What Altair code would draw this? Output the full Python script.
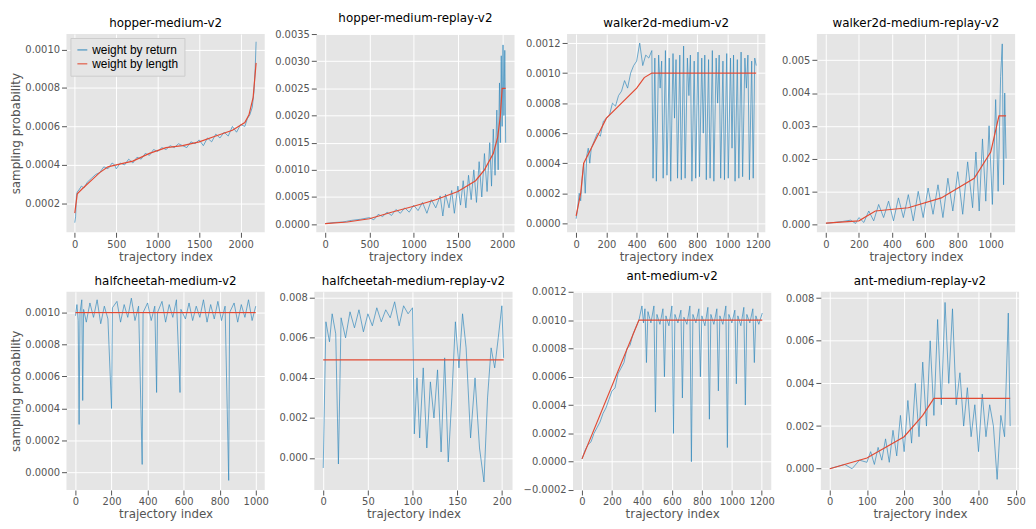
import altair as alt
import pandas as pd

BLUE = "#348ABD"
RED = "#E24A33"
SERIES = ["weight by return", "weight by length"]

# ---- hopper-medium-v2
hm_ret = [(0,0.00010),(10,0.00013),(20,0.00024),(30,0.00026),(50,0.00027),(80,0.00029),(110,0.00028),
          (150,0.00031),(200,0.00033),(250,0.00035),(300,0.00036),(350,0.00039),(400,0.00038),(450,0.00041),
          (480,0.00040),(500,0.00038),(550,0.00041),(600,0.00040),(650,0.00043),(700,0.00041),(750,0.00044),
          (800,0.00043),(850,0.00046),(900,0.00045),(950,0.00048),(1000,0.00047),(1050,0.00049),(1100,0.00048),
          (1150,0.00050),(1200,0.00049),(1250,0.00051),(1300,0.00050),(1350,0.00049),(1400,0.00052),(1450,0.00051),
          (1500,0.00053),(1550,0.00050),(1600,0.00054),(1650,0.00052),(1700,0.00056),(1750,0.00054),(1800,0.00057),
          (1850,0.00055),(1900,0.00060),(1950,0.00057),(2000,0.00061),(2050,0.00060),(2080,0.00064),(2110,0.00066),
          (2140,0.00070),(2160,0.00078),(2175,0.00090),(2186,0.00104)]
hm_len = [(0,0.00015),(30,0.00025),(100,0.00028),(200,0.00032),(300,0.00036),(400,0.00039),(500,0.00040),
          (700,0.00042),(900,0.00046),(1100,0.00049),(1300,0.00050),(1500,0.00052),(1700,0.00055),(1900,0.00058),
          (2050,0.00062),(2100,0.00066),(2150,0.00075),(2186,0.00093)]

# ---- hopper-medium-replay-v2
hmr_ret = [(0,0.00001),(100,0.00003),(200,0.00004),(300,0.00007),(400,0.00009),(500,0.00012),(550,0.00008),
           (600,0.00018),(650,0.00014),(700,0.00022),(750,0.00016),(800,0.00027),(850,0.00020),(900,0.00030),
           (950,0.00022),(1000,0.00035),(1050,0.00025),(1100,0.00040),(1150,0.00020),(1200,0.00045),(1250,0.00030),
           (1300,0.00052),(1330,0.00015),(1360,0.00055),(1400,0.00030),(1430,0.00062),(1460,0.00020),(1500,0.00070),
           (1530,0.00035),(1560,0.00080),(1590,0.00030),(1620,0.00090),(1650,0.00045),(1680,0.00100),(1710,0.00040),
           (1740,0.00115),(1770,0.00050),(1800,0.00130),(1830,0.00060),(1860,0.00150),(1880,0.00070),(1900,0.00175),
           (1920,0.00090),(1940,0.00210),(1955,0.00100),(1970,0.00260),(1980,0.00150),(1990,0.00310),(2000,0.00180),
           (2010,0.00330),(2020,0.00200),(2030,0.00320),(2040,0.00150)]
hmr_len = [(0,0.00001),(250,0.00004),(500,0.00010),(750,0.00022),(1000,0.00033),(1250,0.00045),(1500,0.00060),
           (1700,0.00080),(1800,0.00100),(1900,0.00130),(1950,0.00160),(1980,0.00200),(2000,0.00250),(2040,0.00250)]

# ---- walker2d-medium-v2
wm_ret = [(0,0.00003),(10,0.0001),(20,0.0002),(30,0.00015),(40,0.0003),(50,0.0004),(60,0.0002),(70,0.00045),
          (80,0.0005),(90,0.0004),(100,0.0005),(120,0.00055),(140,0.0006),(160,0.00058),(180,0.00068),(200,0.0007),
          (220,0.00072),(240,0.0008),(260,0.00078),(280,0.00085),(300,0.00088),(320,0.00095),(340,0.0009),
          (360,0.0010),(380,0.00105),(400,0.00108),(420,0.0012),(440,0.00105),(460,0.00112),(480,0.0011),
          (500,0.00115),(508,0.0003),(520,0.0011),(530,0.00028),(545,0.00112),(555,0.0009),(565,0.00108),
          (575,0.0003),(590,0.00115),(600,0.00032),(615,0.0011),(625,0.00028),(640,0.00113),(650,0.0007),
          (660,0.00109),(670,0.0003),(685,0.00112),(695,0.00029),(710,0.00118),(720,0.0003),(735,0.0011),
          (745,0.00085),(755,0.00112),(765,0.00028),(780,0.00108),(790,0.0003),(805,0.00114),(815,0.00031),
          (830,0.0011),(840,0.0006),(850,0.00112),(860,0.00029),(875,0.00109),(885,0.0003),(900,0.00115),
          (910,0.00028),(925,0.0011),(935,0.0008),(945,0.00112),(955,0.0003),(970,0.00108),(980,0.00029),
          (995,0.00113),(1005,0.0003),(1020,0.0011),(1030,0.0005),(1040,0.00112),(1050,0.00028),(1065,0.00109),
          (1075,0.0003),(1090,0.00114),(1100,0.00031),(1115,0.0011),(1125,0.0009),(1135,0.00112),(1145,0.00029),
          (1160,0.00108),(1170,0.0003),(1180,0.0011),(1190,0.00105)]
wm_len = [(0,0.00005),(30,0.0002),(50,0.0004),(100,0.0005),(150,0.0006),(200,0.0007),(300,0.0008),
          (400,0.0009),(450,0.00097),(500,0.0010),(1190,0.0010)]

# ---- walker2d-medium-replay-v2
wmr_ret = [(0,0.00002),(50,0.00005),(100,0.00008),(150,0.00012),(180,0.00002),(200,0.0002),(230,0.00005),
           (260,0.0004),(290,0.0001),(320,0.0006),(350,0.0002),(380,0.0007),(410,0.0001),(440,0.0008),
           (470,0.0002),(500,0.0009),(530,0.0001),(560,0.0010),(590,0.0002),(620,0.0011),(650,0.0003),
           (680,0.0012),(710,0.0002),(740,0.0014),(770,0.0004),(800,0.0016),(830,0.0003),(860,0.0019),
           (890,0.0005),(910,0.0022),(930,0.0004),(950,0.0026),(970,0.0007),(990,0.0030),(1010,0.0006),
           (1030,0.0038),(1045,0.0010),(1060,0.0045),(1070,0.0055),(1078,0.0012),(1085,0.0040),(1093,0.0020)]
wmr_len = [(0,0.00003),(200,0.0001),(300,0.0004),(500,0.0005),(700,0.0008),(900,0.0014),(1000,0.0022),
           (1050,0.0033),(1093,0.0033)]

# ---- halfcheetah-medium-v2
hc_ret = [(0,0.00098),(8,0.00105),(15,0.00095),(20,0.0003),(25,0.001),(35,0.00108),(40,0.00045),(45,0.00102),
          (60,0.00094),(80,0.00106),(100,0.00097),(120,0.00108),(140,0.00093),(160,0.00104),(180,0.00096),
          (200,0.0004),(205,0.00103),(230,0.00107),(250,0.00094),(270,0.00105),(290,0.00097),(310,0.00109),
          (330,0.00095),(350,0.00104),(370,0.00005),(375,0.001),(400,0.00106),(420,0.00095),(440,0.00104),
          (450,0.0005),(455,0.001),(480,0.00107),(500,0.00094),(520,0.00105),(540,0.00097),(560,0.00108),
          (580,0.0005),(585,0.00102),(610,0.00096),(630,0.00106),(650,0.00095),(670,0.00104),(690,0.00097),
          (710,0.00108),(730,0.00094),(750,0.00105),(770,0.00096),(790,0.00107),(810,0.00095),(830,0.00104),
          (850,-0.00005),(855,0.001),(880,0.00106),(900,0.00094),(920,0.00105),(940,0.00097),(960,0.00108),
          (980,0.00095),(1000,0.00104)]
hc_len = [(0,0.001),(1000,0.001)]

# ---- halfcheetah-medium-replay-v2
hcr_ret = [(0,-0.0005),(3,0.0068),(7,0.0058),(10,0.0072),(14,0.0062),(17,-0.0003),(20,0.0070),(25,0.0060),
           (30,0.0073),(35,0.0065),(40,0.0074),(45,0.0063),(50,0.0072),(55,0.0066),(60,0.0075),(65,0.0068),
           (70,0.0074),(75,0.0070),(80,0.0078),(85,0.0066),(90,0.0076),(95,0.0072),(100,0.0075),(102,0.0012),
           (105,0.0040),(108,0.0010),(112,0.0045),(116,0.0005),(120,0.0038),(124,0.0020),(128,0.0044),(132,0.0003),
           (136,0.0050),(140,-0.0002),(144,0.0030),(148,0.0068),(152,0.0045),(156,0.0072),(160,0.0055),
           (165,0.0010),(170,0.0040),(175,0.0005),(180,-0.0012),(184,0.0030),(188,0.0055),(192,0.0045),
           (196,0.0060),(200,0.0076),(202,0.0050)]
hcr_len = [(0,0.0049),(202,0.0049)]

# ---- ant-medium-v2
am_ret = [(0,0.00002),(20,0.00008),(40,0.00012),(60,0.00014),(80,0.0002),(100,0.00024),(120,0.00028),
          (140,0.00034),(160,0.00038),(180,0.00044),(200,0.00050),(220,0.00052),(240,0.00062),(260,0.00066),
          (280,0.0007),(300,0.0008),(320,0.00082),(340,0.0009),(360,0.00095),(380,0.001),(400,0.0011),
          (410,0.00098),(420,0.00108),(430,0.0007),(440,0.00106),(460,0.00098),(480,0.0011),(490,0.00035),
          (500,0.00104),(520,0.00097),(540,0.00108),(550,0.0006),(560,0.00103),(580,0.00096),(600,0.0011),
          (610,0.0002),(620,0.00104),(640,0.00098),(660,0.00107),(670,0.00045),(680,0.00102),(700,0.00097),
          (720,0.0011),(730,0.0),(740,0.00104),(760,0.00098),(780,0.00108),(790,0.0006),(800,0.00103),
          (820,0.00096),(840,0.00109),(850,0.0003),(860,0.00104),(880,0.00097),(900,0.00108),(910,0.0005),
          (920,0.00103),(940,0.00097),(960,0.0011),(970,0.0001),(980,0.00104),(1000,0.00098),(1020,0.00107),
          (1030,0.00055),(1040,0.00103),(1060,0.00096),(1080,0.00109),(1090,0.0004),(1100,0.00104),
          (1120,0.00098),(1140,0.00108),(1150,0.0007),(1160,0.00103),(1180,0.00097),(1203,0.00105)]
am_len = [(0,0.00002),(380,0.001),(1203,0.001)]

# ---- ant-medium-replay-v2
amr_ret = [(0,0.0),(20,0.0001),(40,0.0002),(60,0.0),(80,0.0004),(100,0.0003),(110,0.0008),(120,0.0002),
           (130,0.0010),(140,0.0004),(150,0.0014),(160,0.0003),(170,0.0018),(180,0.0006),(190,0.0025),
           (200,0.0008),(210,0.0032),(220,0.0012),(230,0.0040),(240,0.0015),(250,0.0050),(260,0.0020),
           (270,0.0060),(280,0.0025),(290,0.0070),(300,0.0030),(310,0.0078),(320,0.0040),(330,0.0075),
           (340,0.0030),(350,0.0045),(360,0.0020),(370,0.0038),(380,0.0015),(390,0.0030),(400,0.0008),
           (410,0.0035),(420,0.0015),(430,0.0030),(440,0.0020),(450,-0.0005),(460,0.0025),(470,0.0015),
           (480,0.0073),(485,0.0020)]
amr_len = [(0,0.0),(100,0.0005),(200,0.0015),(250,0.0025),(280,0.0033),(485,0.0033)]


def panel(title, ret, length, xdom, xticks, ydom, yticks, yfmt, ytitle=False, legend=False):
    df = pd.DataFrame(
        [(x, y, SERIES[0]) for x, y in ret] + [(x, y, SERIES[1]) for x, y in length],
        columns=["x", "y", "s"])
    df["order"] = range(len(df))
    leg = alt.Legend(title=None, orient="top-left", symbolType="stroke", labelFontSize=12,
                     fillColor="#E5E5E5", strokeColor="#CCCCCC", padding=6, offset=4,
                     symbolStrokeWidth=1.5) if legend else None
    color = alt.Color("s:N", scale=alt.Scale(domain=SERIES, range=[BLUE, RED]), legend=leg)
    x = alt.X("x:Q", scale=alt.Scale(domain=xdom, nice=False, zero=False),
              axis=alt.Axis(values=xticks, format="d", title="trajectory index"))
    y = alt.Y("y:Q", scale=alt.Scale(domain=ydom, nice=False, zero=False),
              axis=alt.Axis(values=yticks, format=yfmt,
                            title="sampling probability" if ytitle else None))
    base = alt.Chart(df)
    blue = base.transform_filter(alt.datum.s == SERIES[0]).mark_line(
        strokeWidth=1, opacity=0.7).encode(x=x, y=y, color=color, order="order:Q")
    red = base.transform_filter(alt.datum.s == SERIES[1]).mark_line(
        strokeWidth=1.2).encode(x=x, y=y, color=color, order="order:Q")
    return (blue + red).properties(width=200, height=200, title=title)


row1 = alt.hconcat(
    panel("hopper-medium-v2", hm_ret, hm_len, [-100, 2290], [0, 500, 1000, 1500, 2000],
          [0.00005, 0.00108], [0.0002, 0.0004, 0.0006, 0.0008, 0.0010], ".4f", True, True),
    panel("hopper-medium-replay-v2", hmr_ret, hmr_len, [-100, 2140], [0, 500, 1000, 1500, 2000],
          [-0.00015, 0.0035], [0, 0.0005, 0.001, 0.0015, 0.002, 0.0025, 0.003, 0.0035], ".4f"),
    panel("walker2d-medium-v2", wm_ret, wm_len, [-60, 1250], [0, 200, 400, 600, 800, 1000, 1200],
          [-0.00006, 0.00126], [0, 0.0002, 0.0004, 0.0006, 0.0008, 0.001, 0.0012], ".4f"),
    panel("walker2d-medium-replay-v2", wmr_ret, wmr_len, [-55, 1148], [0, 200, 400, 600, 800, 1000],
          [-0.00025, 0.0058], [0, 0.001, 0.002, 0.003, 0.004, 0.005], ".3f"),
    spacing=10).resolve_scale(color="independent")

row2 = alt.hconcat(
    panel("halfcheetah-medium-v2", hc_ret, hc_len, [-50, 1050], [0, 200, 400, 600, 800, 1000],
          [-0.00011, 0.00113], [0, 0.0002, 0.0004, 0.0006, 0.0008, 0.001], ".4f", True),
    panel("halfcheetah-medium-replay-v2", hcr_ret, hcr_len, [-10, 212], [0, 50, 100, 150, 200],
          [-0.0016, 0.0083], [0, 0.002, 0.004, 0.006, 0.008], ".3f"),
    panel("ant-medium-v2", am_ret, am_len, [-60, 1263], [0, 200, 400, 600, 800, 1000, 1200],
          [-0.0002, 0.0012], [-0.0002, 0, 0.0002, 0.0004, 0.0006, 0.0008, 0.001, 0.0012], ".4f"),
    panel("ant-medium-replay-v2", amr_ret, amr_len, [-24, 509], [0, 100, 200, 300, 400, 500],
          [-0.001, 0.0083], [0, 0.002, 0.004, 0.006, 0.008], ".3f"),
    spacing=10).resolve_scale(color="independent")

chart = alt.vconcat(row1, row2, spacing=8, padding=2).resolve_scale(color="independent").configure_view(
    fill="#E5E5E5", stroke=None
).configure_axis(
    grid=True, gridColor="white", gridWidth=1, domain=False, tickColor="#555555",
    labelColor="#555555", labelFontSize=10, titleFontSize=12, titleColor="#555555",
    titleFontWeight="normal", labelFont="DejaVu Sans", titleFont="DejaVu Sans", titlePadding=2
).configure_title(
    fontSize=12, fontWeight="normal", font="DejaVu Sans", color="black", offset=4
)

chart.save("out.html", embed_options={"renderer": "svg", "actions": False})
